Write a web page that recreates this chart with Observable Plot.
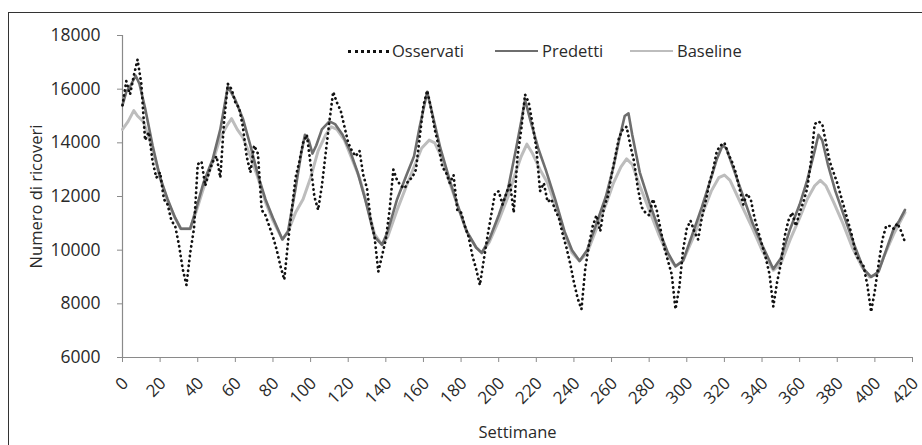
<!DOCTYPE html>
<html><head><meta charset="utf-8">
<script src="https://cdn.jsdelivr.net/npm/d3@7"></script>
<script src="https://cdn.jsdelivr.net/npm/@observablehq/plot@0.6"></script>
<style>
body{margin:0;background:#fff;}
#wrap{position:relative;width:922px;height:445px;overflow:hidden;font-family:"Open Sans",sans-serif;}
#frame{position:absolute;left:8px;top:12px;width:940px;height:470px;border:1.5px solid #333;box-sizing:border-box;}
#chart{position:absolute;left:0;top:0;}
.lg{position:absolute;top:40px;font-size:16.5px;color:#2a2a2a;line-height:22px;white-space:nowrap;}
.sw{position:absolute;height:0;}
</style></head>
<body>
<div id="wrap">
  <div id="frame"></div>
  <div id="chart"></div>
</div>
<script>
// ---- data ----
const seriesNames = ["Osservati", "Predetti", "Baseline"];
const xTicks = [0,20,40,60,80,100,120,140,160,180,200,220,240,260,280,300,320,340,360,380,400,420];
const yTicks = [6000,8000,10000,12000,14000,16000,18000];

// Observed: one value every 2 weeks, weeks 0..416
const obsStep = 2;
const obsValues = [
15400,16300,15800,16500,17100,16200,14100,14400,13300,12700,
12900,11900,11700,11100,10900,10200,9300,8700,9900,10800,
13200,13300,12400,12900,13300,13500,12700,14800,16200,16000,
15500,15300,14600,13500,12900,13900,13600,11500,11300,10900,
10500,10000,9400,8900,10300,11500,12700,13300,14000,14300,
13200,12000,11500,12400,13600,14800,15900,15500,15200,14600,
14000,13700,13500,13700,12800,12300,11100,10500,9200,9800,
10400,11500,13000,12600,12400,12300,12600,12700,13000,14200,
15400,15950,15300,14500,13900,13100,12900,12500,12800,11500,
11400,10900,10500,9800,9300,8700,9600,10500,11300,12100,
12200,11700,12100,12500,11400,13500,14500,15800,15500,14700,
13800,12200,12500,11800,11900,11500,11200,10600,10100,9500,
8800,8200,7800,9300,10200,10900,11300,10700,11600,12000,
12800,13500,14200,14500,14600,13900,13300,12300,11600,11400,
11300,11900,11500,10800,10100,9600,9100,7800,8600,10000,
10800,11100,10700,10400,11200,11800,12500,13000,13700,13900,
14000,13600,13300,12900,12300,11700,12100,11900,11200,10700,
10200,9700,9100,7900,8800,9500,10500,11100,11400,10900,
11400,11800,12300,13300,14700,14800,14700,14000,13300,12900,
12500,12000,11500,11000,10500,9800,9600,9400,8700,7700,
8500,9500,10400,10900,10900,10800,11000,10700,10300
];

const predWeeks = [0,2,4,7,9,12,16,20,24,28,31,36,39,43,48,52,56,60,64,68,72,76,80,85,88,92,95,97,99,101,103,106,110,113,117,121,125,129,134,138,141,146,151,155,158,162,165,169,174,178,183,188,191,195,200,205,209,212,214,217,221,225,230,235,239,243,247,252,257,261,264,267,269,271,275,280,285,290,294,298,303,308,313,316,319,321,325,330,335,340,346,350,355,360,364,368,370,372,375,379,384,389,394,398,402,406,410,413,416];
const predValues = [15400,15900,16100,16500,16200,15300,13900,12700,11900,11200,10800,10800,11500,12500,13400,14500,16100,15600,14900,13900,12800,11900,11200,10400,10700,12300,13600,14300,14100,13600,13900,14500,14800,14700,14300,13700,12900,11900,10500,10200,10700,11900,12800,13500,14600,15900,15000,13800,12600,11700,10700,10100,9900,10400,11300,12300,13700,14800,15600,14800,13800,13000,11900,10700,10000,9600,10000,11000,12000,13100,14100,15000,15100,14300,12900,11800,10800,9900,9400,9600,10600,11600,12700,13400,13900,13800,13000,12000,11000,10200,9300,9700,10800,11700,12600,13700,14300,14100,13200,12200,11200,10200,9300,9000,9200,10000,10800,11100,11500];

const baseWeeks = [0,3,6,8,11,15,20,24,28,31,36,39,43,48,52,56,58,61,64,68,72,76,80,85,88,92,96,100,104,108,111,114,118,122,126,130,134,138,141,146,151,155,159,163,166,170,174,178,183,188,191,195,200,205,209,212,215,218,222,226,230,235,239,243,247,252,257,261,265,268,271,275,280,285,290,294,298,303,308,313,317,320,323,327,331,335,340,346,350,355,360,364,368,371,374,378,383,388,393,397,401,405,410,413,416];
const baseValues = [14500,14800,15200,15000,14800,14000,12700,11800,11200,10800,10800,11400,12300,13300,14200,14700,14900,14500,14200,13500,12700,11800,11100,10400,10700,11400,11900,12700,13700,14300,14600,14500,14100,13400,12700,11700,10600,10200,10500,11500,12400,13100,13800,14100,14000,13400,12500,11700,10700,10100,9900,10300,11100,12000,12900,13500,13950,13600,13000,12500,11700,10600,9900,9600,9900,10800,11700,12500,13100,13400,13200,12400,11500,10600,9800,9400,9600,10400,11300,12200,12700,12800,12600,12000,11400,10800,10000,9250,9500,10400,11200,11900,12400,12600,12400,11800,11000,10100,9400,9000,9100,9800,10600,11000,11400];

// ---- tables ----
const obs = obsValues.map((v, i) => ({week: i * obsStep, value: v}));
const pred = predWeeks.map((w, i) => ({week: w, value: predValues[i]}));
const base = baseWeeks.map((w, i) => ({week: w, value: baseValues[i]}));

const axisColor = "#8a8a8a";
const textColor = "#2a2a2a";
const fs = 17.5;

const plot = Plot.plot({
  width: 922, height: 445,
  marginLeft: 122, marginRight: 10, marginTop: 35, marginBottom: 88,
  style: {fontFamily: '"Open Sans", sans-serif', fontSize: fs + "px", color: textColor, background: "transparent", overflow: "visible"},
  x: {domain: [0, 420]},
  y: {domain: [6000, 18000]},
  marks: [
    Plot.axisY({ticks: yTicks, tickSize: 5, tickFormat: () => "", label: null, stroke: axisColor}),
    Plot.axisX({ticks: xTicks, tickSize: 5, tickFormat: () => "", label: null, stroke: axisColor}),
    Plot.text(yTicks, {y: d => d, text: d => String(d), frameAnchor: "left", textAnchor: "end", lineAnchor: "middle", dx: -22, fontSize: fs, fill: textColor}),
    Plot.text(xTicks, {x: d => d, text: d => String(d), frameAnchor: "bottom", textAnchor: "end", lineAnchor: "middle", rotate: -45, dx: 3, dy: 23, fontSize: 17, fill: textColor}),
    Plot.ruleX([0], {stroke: axisColor, strokeWidth: 1.2}),
    Plot.ruleY([6000], {stroke: axisColor, strokeWidth: 1.2}),
    Plot.line(base, {x: "week", y: "value", stroke: "#bdbdbd", strokeWidth: 3}),
    Plot.line(pred, {x: "week", y: "value", stroke: "#6e6e6e", strokeWidth: 2.6}),
    Plot.line(obs, {x: "week", y: "value", stroke: "#111", strokeWidth: 2.7, strokeDasharray: "0.3 4.6", strokeLinecap: "round"}),
    Plot.text(["Numero di ricoveri"], {frameAnchor: "left", textAnchor: "middle", lineAnchor: "middle", rotate: -90, dx: -86, fontSize: 16.5, fill: textColor}),
    Plot.text(["Settimane"], {frameAnchor: "bottom", textAnchor: "middle", lineAnchor: "middle", dy: 75, fontSize: 16.5, fill: textColor})
  ]
});
document.getElementById("chart").appendChild(plot);

// ---- legend ----
const wrap = document.getElementById("wrap");
const legendItems = [
  {name: seriesNames[0], x0: 348, x1: 389, tx: 392, style: "border-top:3px dotted #111;top:50px;"},
  {name: seriesNames[1], x0: 495, x1: 538, tx: 542, style: "border-top:2.6px solid #6e6e6e;top:50px;"},
  {name: seriesNames[2], x0: 630, x1: 673, tx: 677, style: "border-top:2.6px solid #bdbdbd;top:50px;"}
];
legendItems.forEach(it => {
  const s = document.createElement("div");
  s.className = "sw";
  s.style.cssText = `left:${it.x0}px;width:${it.x1 - it.x0}px;` + it.style;
  wrap.appendChild(s);
  const t = document.createElement("div");
  t.className = "lg";
  t.style.left = it.tx + "px";
  t.textContent = it.name;
  wrap.appendChild(t);
});
</script>
</body></html>
